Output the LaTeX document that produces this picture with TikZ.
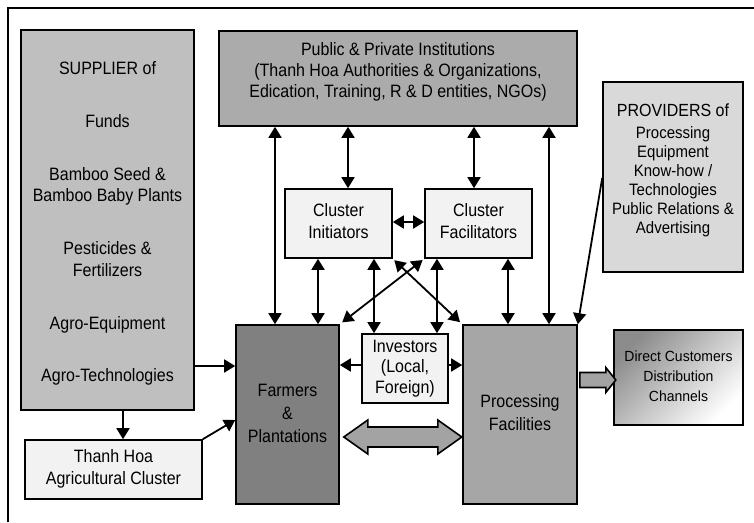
\documentclass[tikz,border=0pt]{standalone}
\usepackage{fontspec}
\usepackage{graphicx}
\setmainfont{Liberation Sans}
\usetikzlibrary{arrows.meta,calc}
\newcommand{\tb}[4]{\scalebox{1}[#1]{\fontsize{#3}{#2}\selectfont\begin{tabular}{@{}c@{}}#4\end{tabular}}}
\definecolor{supfill}{HTML}{BFBFBF}
\definecolor{pubfill}{HTML}{ABABAB}
\definecolor{provfill}{HTML}{D9D9D9}
\definecolor{lightfill}{HTML}{F2F2F2}
\definecolor{farmfill}{HTML}{808080}
\definecolor{procfill}{HTML}{A6A6A6}
\definecolor{blkfill}{HTML}{A3A3A3}
\definecolor{dirdark}{HTML}{8C8C8C}
\begin{document}
\begin{tikzpicture}[x=1pt,y=-1pt,
  box/.style={draw=black, line width=1.6pt, inner sep=0pt, rectangle},
  txt/.style={inner sep=0pt},
  arr/.style={line width=1.8pt, -{Triangle[length=11pt,width=13pt]}},
  darr/.style={line width=1.8pt, {Triangle[length=11pt,width=13pt]}-{Triangle[length=11pt,width=13pt]}},
  blk/.style={draw=black, line width=1.6pt, fill=blkfill, line join=miter}]
\useasboundingbox (0,0) rectangle (754,522);
% outer frame (only top and left edges visible)
\draw[line width=1.3pt] (8,522) -- (8,8) -- (754,8);

% boxes
\node[box, fill=supfill, minimum width=173pt, minimum height=380pt] (sup) at (107.5,220) {};
\node[txt] (suptext) at (107.5,224) {\tb{1.12}{19.2}{16}{SUPPLIER of\\[28pt] Funds\\[28pt] Bamboo Seed \&\\ Bamboo Baby Plants\\[28pt] Pesticides \&\\ Fertilizers\\[28pt] Agro-Equipment\\[28pt] Agro-Technologies}};

\node[box, fill=pubfill, minimum width=358pt, minimum height=95pt] (pub) at (398,78.5) {};
\node[txt] (pubtext) at (398,72) {\tb{1.12}{18.75}{16}{Public \& Private Institutions\\ (Thanh Hoa Authorities \& Organizations,\\ Edication, Training, R \& D entities, NGOs)}};

\node[box, fill=provfill, minimum width=140pt, minimum height=190pt] (prov) at (673,177) {};
\node[txt] (provtext) at (673,171) {\tb{1.1}{17.3}{15}{{\fontsize{16}{17.3}\selectfont PROVIDERS of}\\[3pt] Processing\\ Equipment\\ Know-how /\\ Technologies\\ Public Relations \&\\ Advertising}};

\node[box, fill=lightfill, minimum width=107pt, minimum height=69pt] (ci) at (338.5,223.5) {\tb{1.12}{19.5}{16}{Cluster\\ Initiators}};
\node[box, fill=lightfill, minimum width=107pt, minimum height=69pt] (cf) at (478.5,223.5) {\tb{1.12}{19.5}{16}{Cluster\\ Facilitators}};
\node[box, fill=lightfill, minimum width=86pt, minimum height=69pt] (inv) at (405,368.5) {\tb{1.12}{18.3}{16}{Investors\\ (Local,\\ Foreign)}};
\node[box, fill=farmfill, minimum width=103pt, minimum height=179pt] (farm) at (287.5,414.5) {\tb{1.12}{20.5}{16}{Farmers\\ \&\\ Plantations}};
\node[box, fill=procfill, minimum width=114pt, minimum height=179pt] (proc) at (520,414.5) {\tb{1.12}{20.5}{16}{Processing\\ Facilities}};
\node[box, top color=dirdark, bottom color=white, shading angle=45, minimum width=129pt, minimum height=95pt] (dir) at (678.5,377.5) {\tb{1.05}{19}{14}{Direct Customers\\ Distribution\\ Channels}};
\node[box, fill=lightfill, minimum width=177pt, minimum height=59pt] (th) at (113.5,469.5) {\tb{1.12}{19.6}{16}{Thanh Hoa\\ Agricultural Cluster}};

% connectors
\draw[arr] (sup.east |- 0,366) -- (farm.west |- 0,366);
\draw[arr] (123,0 |- sup.south) -- (123,0 |- th.north);
\draw[arr] (th.north east) -- (farm.west |- 0,420);

\draw[darr] (275,0 |- pub.south) -- (275,0 |- farm.north);
\draw[darr] (348,0 |- pub.south) -- (348,0 |- ci.north);
\draw[darr] (474,0 |- pub.south) -- (474,0 |- cf.north);
\draw[darr] (549,0 |- pub.south) -- (549,0 |- proc.north);
\draw[arr] (prov.west |- 0,178) -- (proc.north east);

\draw[darr] (ci.east |- 0,222) -- (cf.west |- 0,222);
\draw[darr] (318,0 |- ci.south) -- (318,0 |- farm.north);
\draw[darr] (374,0 |- ci.south) -- (374,0 |- inv.north);
\draw[darr, shorten <=2pt, shorten >=3pt] (ci.south east) -- (proc.north west);
\draw[darr, shorten <=2pt, shorten >=3pt] (cf.south west) -- (farm.north east);
\draw[darr] (437,0 |- cf.south) -- (437,0 |- inv.north);
\draw[darr] (508,0 |- cf.south) -- (508,0 |- proc.north);

\draw[arr] (inv.west |- 0,365) -- (farm.east |- 0,365);
\draw[arr] (inv.east |- 0,365) -- (proc.west |- 0,365);

% block arrows
\coordinate (dl) at ($(farm.east |- 0,437)+(4,0)$);
\draw[blk] (dl) -- ++(24,-17) -- ++(0,7) -- ++(70,0) -- ++(0,-7) -- ++(24,17) -- ++(-24,17) -- ++(0,-7) -- ++(-70,0) -- ++(0,7) -- cycle;
\coordinate (ra) at ($(proc.east |- 0,380)+(2,0)$);
\draw[blk] (ra) ++(0,-7.5) -- ++(26,0) -- ++(0,-5) -- ++(10,12.5) -- ++(-10,12.5) -- ++(0,-5) -- ++(-26,0) -- cycle;
\end{tikzpicture}
\end{document}
